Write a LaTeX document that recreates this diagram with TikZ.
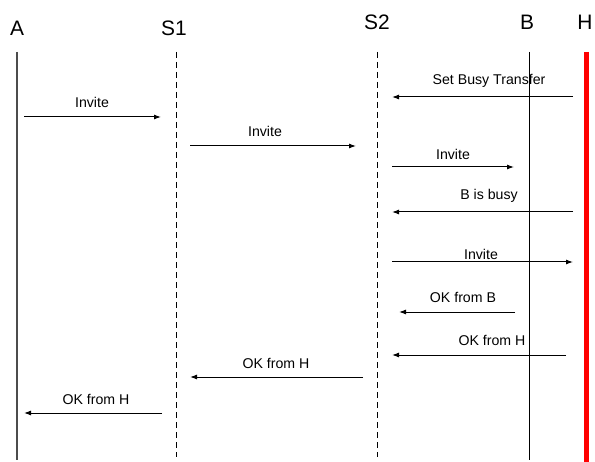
\documentclass[tikz,border=0pt]{standalone}
\usepackage{fontspec}
\setmainfont{Liberation Sans}
\usetikzlibrary{arrows.meta}
\begin{document}
\begin{tikzpicture}[x=1bp,y=-1bp,
  head/.style={font=\fontsize{21}{24}\selectfont, inner sep=0pt},
  lbl/.style={font=\fontsize{14.2}{17}\selectfont, inner sep=0pt},
  msg/.style={-{Latex[length=7bp,width=5bp]}, line width=1bp, black},
  solidlife/.style={line width=0.8bp, black},
  dashlife/.style={line width=0.8bp, black, dash pattern=on 6bp off 4bp},
  alife/.style={line width=1.6bp, black!70},
  hlife/.style={line width=5bp, red}]
\useasboundingbox (0,0) rectangle (595,462);
\fill[white] (0,0) rectangle (595,462);

% participant headings
\node[head] (hA)  at (17,28)  {A};
\node[head] (hS1) at (174,28) {S1};
\node[head] (hS2) at (377,22) {S2};
\node[head] (hB)  at (527,22) {B};
\node[head] (hH)  at (585,22) {H};

% lifelines
\coordinate (At)  at (17,52);  \coordinate (Ab)  at (17,460);
\coordinate (S1t) at (176,52); \coordinate (S1b) at (176,457);
\coordinate (S2t) at (377,52); \coordinate (S2b) at (377,457);
\coordinate (Bt)  at (529,52); \coordinate (Bb)  at (529,460);
\coordinate (Ht)  at (586,52); \coordinate (Hb)  at (586,462);
\draw[alife] (At) -- (Ab);
\draw[dashlife] (S1t) -- (S1b);
\draw[dashlife] (S2t) -- (S2b);
\draw[solidlife] (Bt) -- (Bb);
\draw[hlife] (Ht) -- (Hb);

% message end points
\coordinate (m1s) at (24,117);  \coordinate (m1e) at (161,117);
\coordinate (m2s) at (190,146); \coordinate (m2e) at (356,146);
\coordinate (m3s) at (573,97);  \coordinate (m3e) at (392,97);
\coordinate (m4s) at (392,167); \coordinate (m4e) at (514,167);
\coordinate (m5s) at (573,212); \coordinate (m5e) at (392,212);
\coordinate (m6s) at (392,262); \coordinate (m6e) at (573,262);
\coordinate (m7s) at (515,312); \coordinate (m7e) at (399,312);
\coordinate (m8s) at (566,355); \coordinate (m8e) at (392,355);
\coordinate (m9s) at (363,377); \coordinate (m9e) at (190,377);
\coordinate (m10s) at (162,413); \coordinate (m10e) at (24,413);

% messages
\draw[msg] (m1s) -- (m1e);
\draw[msg] (m2s) -- (m2e);
\draw[msg] (m3s) -- (m3e);
\draw[msg] (m4s) -- (m4e);
\draw[msg] (m5s) -- (m5e);
\draw[msg] (m6s) -- (m6e);
\draw[msg] (m7s) -- (m7e);
\draw[msg] (m8s) -- (m8e);
\draw[msg] (m9s) -- (m9e);
\draw[msg] (m10s) -- (m10e);

% message labels
\node[lbl] (l1)  at (92,102)  {Invite};
\node[lbl] (l2)  at (265,131) {Invite};
\node[lbl] (l3)  at (489,81)  {Set Busy Transfer};
\node[lbl] (l4)  at (453,154) {Invite};
\node[lbl] (l5)  at (489,196) {B is busy};
\node[lbl] (l6)  at (481,254) {Invite};
\node[lbl] (l7)  at (463,297) {OK from B};
\node[lbl] (l8)  at (492,340) {OK from H};
\node[lbl] (l9)  at (276,363) {OK from H};
\node[lbl] (l10) at (96,399)  {OK from H};
\end{tikzpicture}
\end{document}
